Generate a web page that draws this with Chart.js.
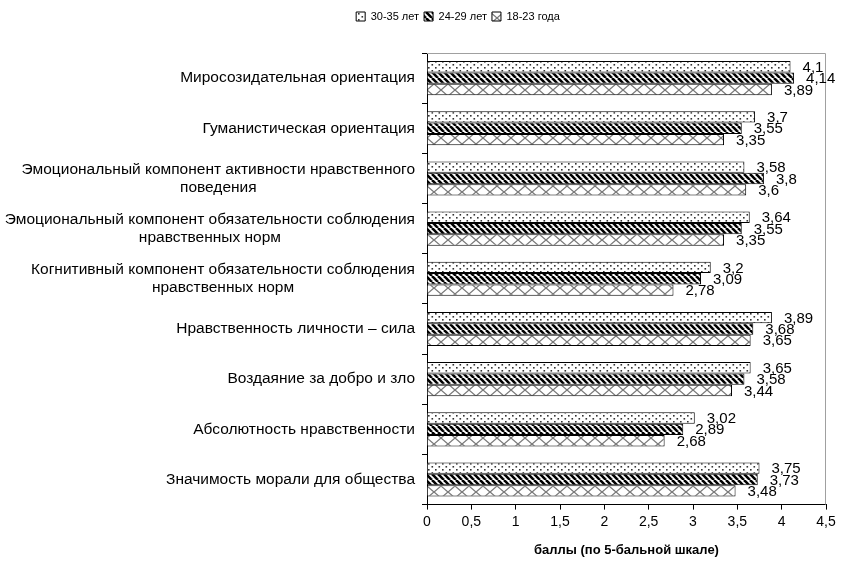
<!DOCTYPE html>
<html>
<head>
<meta charset="utf-8">
<script src="https://cdn.jsdelivr.net/npm/chart.js@4"></script>
<style>
  body { margin: 0; background: #fff; }
  #wrap { width: 841px; height: 561px; }
</style>
</head>
<body>
<div id="wrap"><canvas id="chart" width="841" height="561"></canvas></div>
<script>
// categories, top to bottom
const categories = [
    'Миросозидательная ориентация',
    'Гуманистическая ориентация',
    ['Эмоциональный компонент активности нравственного', 'поведения'],
    ['Эмоциональный компонент обязательности соблюдения', 'нравственных норм'],
    ['Когнитивный компонент обязательности соблюдения', 'нравственных норм'],
    'Нравственность личности – сила',
    'Воздаяние за добро и зло',
    'Абсолютность нравственности',
    'Значимость морали для общества'
]
const seriesNames = ['30-35 лет', '24-29 лет', '18-23 года']
const age30_35 = [4.1, 3.7, 3.58, 3.64, 3.2, 3.89, 3.65, 3.02, 3.75]
const age24_29 = [4.14, 3.55, 3.8, 3.55, 3.09, 3.68, 3.58, 2.89, 3.73]
const age18_23 = [3.89, 3.35, 3.6, 3.35, 2.78, 3.65, 3.44, 2.68, 3.48]
const xTicks = [0, 0.5, 1, 1.5, 2, 2.5, 3, 3.5, 4, 4.5]

const FONT = 'Liberation Sans'
const fmt = v => String(v).replace('.', ',')

// fill patterns
function makePattern(w, h, draw){
    const c = document.createElement('canvas')
    c.width = w; c.height = h
    const g = c.getContext('2d')
    g.fillStyle = '#fff'
    g.fillRect(0, 0, w, h)
    draw(g)
    return document.createElement('canvas').getContext('2d').createPattern(c, 'repeat')
}
const dots = makePattern(7, 6, g => {
    g.fillStyle = '#333'
    g.fillRect(1, 1, 1.6, 1.6)
    g.fillRect(4.5, 4, 1.6, 1.6)
})
const stripes = makePattern(6, 6, g => {
    g.strokeStyle = '#000'
    g.lineWidth = 2.6
    for (let k = -6; k <= 6; k += 6){
        g.beginPath(); g.moveTo(k, 0); g.lineTo(k + 6, 6); g.stroke()
    }
})
const zigzag = makePattern(14, 12, g => {
    g.strokeStyle = '#777'
    g.lineWidth = 1.3
    g.beginPath(); g.moveTo(0, 0); g.lineTo(14, 12); g.stroke()
    g.beginPath(); g.moveTo(14, 0); g.lineTo(0, 12); g.stroke()
})

// frame on top and right of the plot
const framePlugin = {
    id: 'frame',
    beforeDatasetsDraw(chart){
        const a = chart.chartArea, ctx = chart.ctx
        ctx.save()
        ctx.strokeStyle = '#a0a0a0'
        ctx.lineWidth = 1
        ctx.beginPath()
        ctx.moveTo(a.left, a.top + 0.5)
        ctx.lineTo(a.right - 0.5, a.top + 0.5)
        ctx.lineTo(a.right - 0.5, a.bottom)
        ctx.stroke()
        ctx.restore()
    }
}

// category labels: block right aligned, lines centred
const yLabelPlugin = {
    id: 'yLabels',
    afterDraw(chart){
        const ctx = chart.ctx
        const y = chart.scales.y
        ctx.save()
        ctx.font = '15.5px ' + FONT
        ctx.fillStyle = '#000'
        ctx.textAlign = 'center'
        ctx.textBaseline = 'middle'
        const right = chart.chartArea.left - 12
        const lh = 18
        categories.forEach((lab, i) => {
            const lines = Array.isArray(lab) ? lab : [lab]
            const w = Math.max(...lines.map(l => ctx.measureText(l).width))
            const cx = right - w / 2
            const cy = y.getPixelForValue(i)
            lines.forEach((l, j) => {
                ctx.fillText(l, cx, cy + (j - (lines.length - 1) / 2) * lh)
            })
        })
        ctx.restore()
    }
}

// value labels next to bar ends
const valueLabelPlugin = {
    id: 'valueLabels',
    afterDatasetsDraw(chart){
        const ctx = chart.ctx
        ctx.save()
        ctx.font = '15px ' + FONT
        ctx.fillStyle = '#000'
        ctx.textAlign = 'left'
        ctx.textBaseline = 'middle'
        chart.data.datasets.forEach((ds, di) => {
            chart.getDatasetMeta(di).data.forEach((bar, i) => {
                const t = fmt(ds.data[i])
                const x = Math.min(bar.x + 12, chart.width - 4 - ctx.measureText(t).width)
                ctx.fillText(t, x, bar.y + 1)
            })
        })
        ctx.restore()
    }
}

const legendGap = {
    id: 'legendGap',
    beforeInit(chart){
        const fit = chart.legend.fit
        chart.legend.fit = function(){
            fit.bind(chart.legend)()
            this.height += 21
        }
    }
}

new Chart(document.getElementById('chart'), {
    type: 'bar',
    data: {
        labels: categories,
        datasets: [
            { label: seriesNames[0], data: age30_35, backgroundColor: dots },
            { label: seriesNames[1], data: age24_29, backgroundColor: stripes },
            { label: seriesNames[2], data: age18_23, backgroundColor: zigzag }
        ].map(d => Object.assign(d, {
            borderColor: '#000', borderWidth: 1,
            categoryPercentage: 0.68, barPercentage: 1
        }))
    },
    options: {
        indexAxis: 'y',
        responsive: false,
        animation: false,
        layout: { padding: { left: 90, right: 15, top: 6, bottom: 3 } },
        plugins: {
            tooltip: { enabled: false },
            legend: {
                position: 'top',
                labels: {
                    font: { family: FONT, size: 11 },
                    color: '#000',
                    boxWidth: 9, boxHeight: 9,
                    padding: 5
                }
            }
        },
        scales: {
            x: {
                min: 0, max: 4.5,
                afterBuildTicks: s => { s.ticks = xTicks.map(v => ({ value: v })) },
                ticks: {
                    font: { family: FONT, size: 14 }, color: '#000',
                    callback: v => fmt(v), padding: 4
                },
                grid: { drawOnChartArea: false, drawTicks: true, tickLength: 5, color: '#000' },
                border: { color: '#000' },
                title: {
                    display: true, text: 'баллы (по 5-бальной шкале)',
                    font: { family: FONT, size: 13, weight: 'bold' }, color: '#000',
                    padding: { top: 8, bottom: 0 }
                }
            },
            y: {
                ticks: { color: 'rgba(0,0,0,0)', font: { size: 1 } },
                grid: { drawOnChartArea: false, drawTicks: true, tickLength: 5, color: '#000', offset: true },
                border: { color: '#000' },
                afterFit: s => { s.width = 427 - 90 }
            }
        }
    },
    plugins: [framePlugin, yLabelPlugin, valueLabelPlugin, legendGap]
})
</script>
</body>
</html>
